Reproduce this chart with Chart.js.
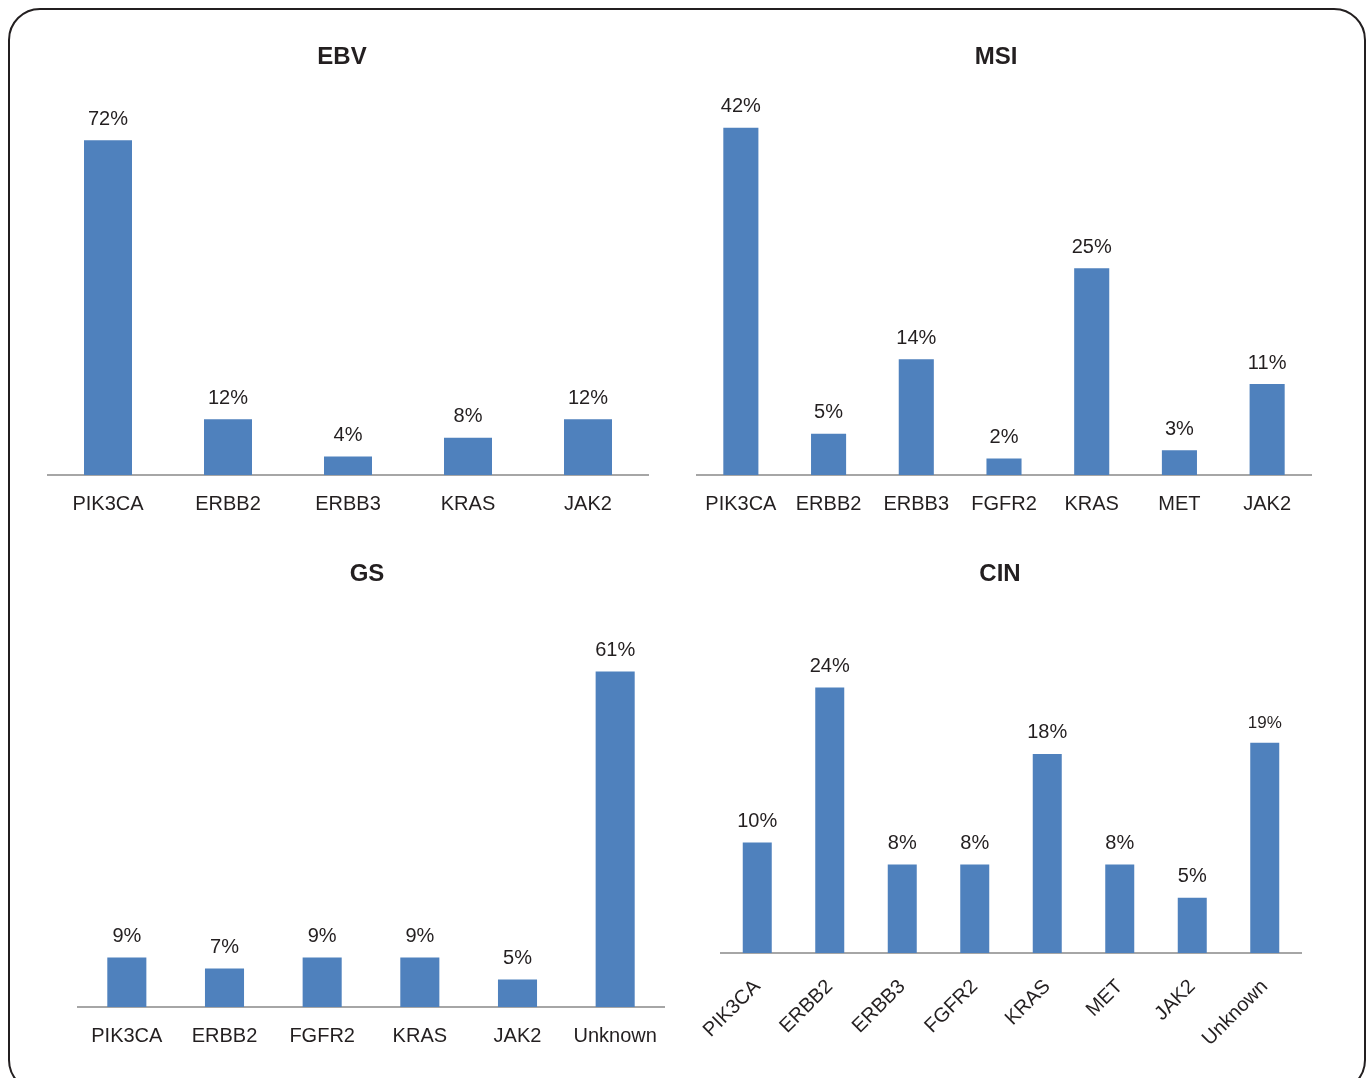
<!DOCTYPE html>
<html>
<head>
<meta charset="utf-8">
<script src="https://cdn.jsdelivr.net/npm/chart.js@4.4.0/dist/chart.umd.min.js"></script>
<style>
    body { margin: 0; background: #fff; overflow: hidden; }
    #frame {
        position: absolute; left: 8px; top: 8px;
        width: 1354px; height: 1080px;
        border: 2px solid #231f20; border-radius: 32px;
    }
    canvas { position: absolute; }
</style>
</head>
<body>
<div id="frame"></div>
<canvas id="ebvChart" style="left:26px; top:31px;" width="632" height="494"></canvas>
<canvas id="msiChart" style="left:671px; top:31px;" width="650" height="494"></canvas>
<canvas id="gsChart" style="left:60px; top:548px;" width="614" height="509"></canvas>
<canvas id="cinChart" style="left:689px; top:548px;" width="622" height="505"></canvas>
<script>
// data
var ebvLabels = ['PIK3CA', 'ERBB2', 'ERBB3', 'KRAS', 'JAK2'];
var ebvValues = [72, 12, 4, 8, 12];

var msiLabels = ['PIK3CA', 'ERBB2', 'ERBB3', 'FGFR2', 'KRAS', 'MET', 'JAK2'];
var msiValues = [42, 5, 14, 2, 25, 3, 11];

var gsLabels = ['PIK3CA', 'ERBB2', 'FGFR2', 'KRAS', 'JAK2', 'Unknown'];
var gsValues = [9, 7, 9, 9, 5, 61];

var cinLabels = ['PIK3CA', 'ERBB2', 'ERBB3', 'FGFR2', 'KRAS', 'MET', 'JAK2', 'Unknown'];
var cinValues = [10, 24, 8, 8, 18, 8, 5, 19];

var barColor = '#4f81bd';
var textColor = '#231f20';
var fontFamily = '"Liberation Sans", Arial, sans-serif';

// draws "NN%" above every bar
var valueLabels = {
    id: 'valueLabels',
    afterDatasetsDraw: function(chart) {
        var ctx = chart.ctx;
        var meta = chart.getDatasetMeta(0);
        var values = chart.data.datasets[0].data;
        ctx.save();
        ctx.fillStyle = textColor;
        ctx.textAlign = 'center';
        ctx.textBaseline = 'bottom';
        meta.data.forEach(function(bar, i) {
            // the last CIN label is set a little smaller in the original
            var size = (chart.canvas.id == 'cinChart' && i == values.length - 1) ? 17 : 20;
            ctx.font = size + 'px ' + fontFamily;
            ctx.fillText(values[i] + '%', bar.x, bar.y - 11);
        });
        ctx.restore();
    }
};

// yGap: invisible y axis width, nudges the title left of the plot centre
function makeChart(id, title, labels, values, yMax, axisHeight, yGap, rotate) {
    var ctx = document.getElementById(id).getContext('2d');
    return new Chart(ctx, {
        type: 'bar',
        data: {
            labels: labels,
            datasets: [{
                data: values,
                backgroundColor: barColor,
                categoryPercentage: 1,
                barPercentage: 0.4
            }]
        },
        options: {
            responsive: false,
            animation: false,
            layout: {
                padding: { left: 10, right: 10, top: 0, bottom: 0 }
            },
            scales: {
                x: {
                    grid: { display: false },
                    border: { display: true, color: '#a6a6a6', width: 2 },
                    ticks: {
                        color: textColor,
                        font: { family: fontFamily, size: 20 },
                        padding: rotate ? 14 : 9,
                        minRotation: rotate ? 45 : 0,
                        maxRotation: rotate ? 45 : 0,
                        autoSkip: false
                    },
                    afterFit: function(scale) {
                        scale.height = axisHeight;
                        scale.paddingLeft = 0;
                        scale.paddingRight = 0;
                    }
                },
                y: {
                    display: true,
                    min: 0,
                    max: yMax,
                    grid: { display: false },
                    border: { display: false },
                    ticks: { display: false },
                    afterFit: function(scale) {
                        scale.width = yGap;
                    }
                }
            },
            plugins: {
                legend: { display: false },
                tooltip: { enabled: false },
                title: {
                    display: true,
                    text: title,
                    color: textColor,
                    font: { family: fontFamily, size: 24, weight: 'bold' },
                    padding: { top: 12, bottom: 8 }
                }
            }
        },
        plugins: [valueLabels]
    });
}

makeChart('ebvChart', 'EBV', ebvLabels, ebvValues, 85, 50, 12, false);
makeChart('msiChart', 'MSI', msiLabels, msiValues, 47.8, 50, 16, false);
makeChart('gsChart', 'GS', gsLabels, gsValues, 74.6, 50, 8, false);
makeChart('cinChart', 'CIN', cinLabels, cinValues, 32.2, 100, 22, true);
</script>
</body>
</html>
